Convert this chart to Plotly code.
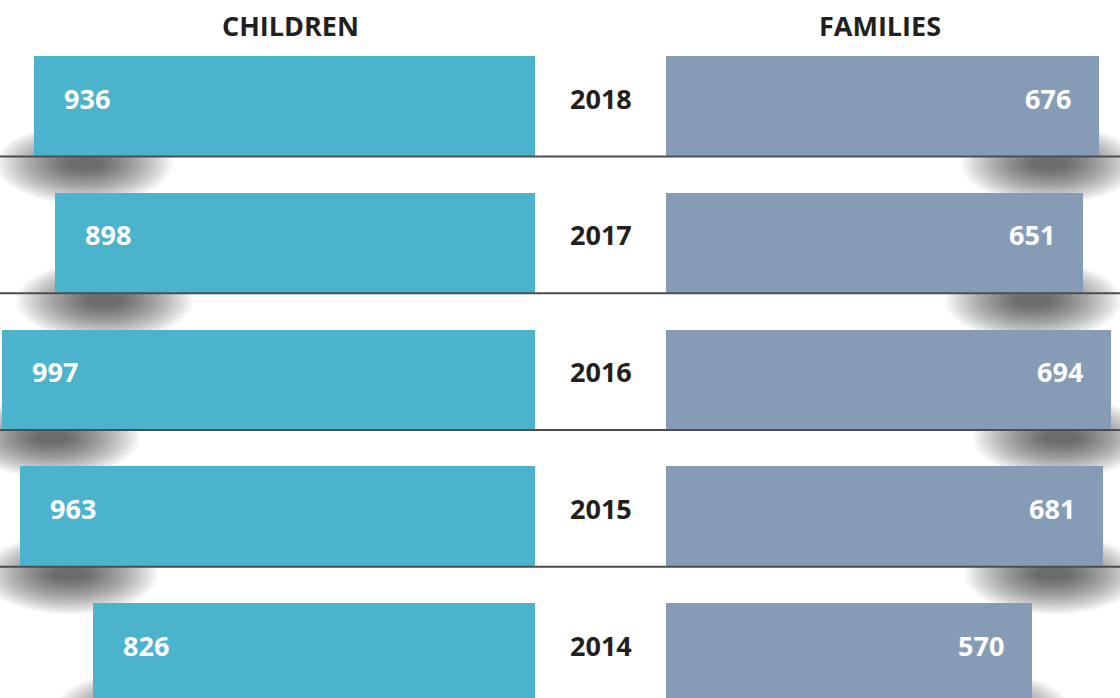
import plotly.graph_objects as go

years = ["2018", "2017", "2016", "2015", "2014"]
children = [936, 898, 997, 963, 826]
families = [676, 651, 694, 681, 570]
headers = ["CHILDREN", "FAMILIES"]

W, H = 1120, 698
CHILD_COLOR = "#4bb3cc"
FAM_COLOR = "#869cb6"
LINE_COLOR = "#4d4d4f"
TEXT_DARK = "#231f20"
FONT = "Open Sans"

pos = list(range(len(years)))
unit_px = 136.75
bar_w = 100 / unit_px
half = bar_w / 2

fig = go.Figure()
fig.add_trace(go.Bar(y=pos, x=children, orientation="h", width=bar_w,
                     marker=dict(color=CHILD_COLOR, line=dict(width=0)),
                     xaxis="x", yaxis="y", hoverinfo="skip", showlegend=False))
fig.add_trace(go.Bar(y=pos, x=families, orientation="h", width=bar_w,
                     marker=dict(color=FAM_COLOR, line=dict(width=0)),
                     xaxis="x2", yaxis="y", hoverinfo="skip", showlegend=False))

shapes = []
annotations = []

# soft shadows under the outer ends of bars
layers = 20
for i in pos:
    for xa, val, sign in (("x", children[i], 1), ("x2", families[i], -1)):
        for k in range(layers):
            f = 1 - k / layers
            hw = 74 * f + 14
            hh = 36 * f + 4
            cx = sign * 50
            cy = -8
            shapes.append(dict(
                type="circle", layer="below",
                xref=xa, yref="y",
                xsizemode="pixel", ysizemode="pixel",
                xanchor=val, yanchor=i + half,
                x0=cx - hw, x1=cx + hw, y0=cy - hh, y1=cy + hh,
                fillcolor="rgba(0,0,0,0.038)", line=dict(width=0),
            ))

# separator lines at bar bottoms
for i in pos:
    shapes.append(dict(type="line", layer="above", xref="paper", yref="y",
                       x0=0, x1=1, y0=i + half + 0.004, y1=i + half + 0.004,
                       line=dict(color=LINE_COLOR, width=2)))

# year labels and value labels
for i in pos:
    annotations.append(dict(text=f"<b>{years[i]}</b>", xref="paper", yref="y",
                            x=600.5 / W, y=i, yshift=8, showarrow=False,
                            font=dict(family=FONT, size=27, color=TEXT_DARK),
                            xanchor="center", yanchor="middle"))
    annotations.append(dict(text=f"<b>{children[i]}</b>", xref="x", yref="y",
                            x=children[i], y=i, yshift=8, xshift=28, showarrow=False,
                            font=dict(family=FONT, size=27, color="white"),
                            xanchor="left", yanchor="middle"))
    annotations.append(dict(text=f"<b>{families[i]}</b>", xref="x2", yref="y",
                            x=families[i], y=i, yshift=8, xshift=-26, showarrow=False,
                            font=dict(family=FONT, size=27, color="white"),
                            xanchor="right", yanchor="middle"))

# headers
for txt, xc in zip(headers, (290, 880)):
    annotations.append(dict(text=f"<b>{txt}</b>", xref="paper", yref="paper",
                            x=xc / W, y=1 - 25 / H, showarrow=False,
                            font=dict(family=FONT, size=27, color=TEXT_DARK),
                            xanchor="center", yanchor="middle"))

fig.update_layout(
    width=W, height=H,
    margin=dict(l=0, r=0, t=0, b=0),
    paper_bgcolor="white", plot_bgcolor="rgba(0,0,0,0)",
    xaxis=dict(domain=[0, 535 / W], range=[1000, 0], visible=False, fixedrange=True),
    xaxis2=dict(domain=[666 / W, 1], range=[0, 708], visible=False, fixedrange=True),
    yaxis=dict(range=[4 + 45 / unit_px, -106 / unit_px], visible=False, fixedrange=True),
    shapes=shapes, annotations=annotations,
    bargap=0,
)

fig.write_html("out.html", config={"displayModeBar": False},
               post_script="document.body.style.margin='0';document.body.style.overflow='hidden';")
